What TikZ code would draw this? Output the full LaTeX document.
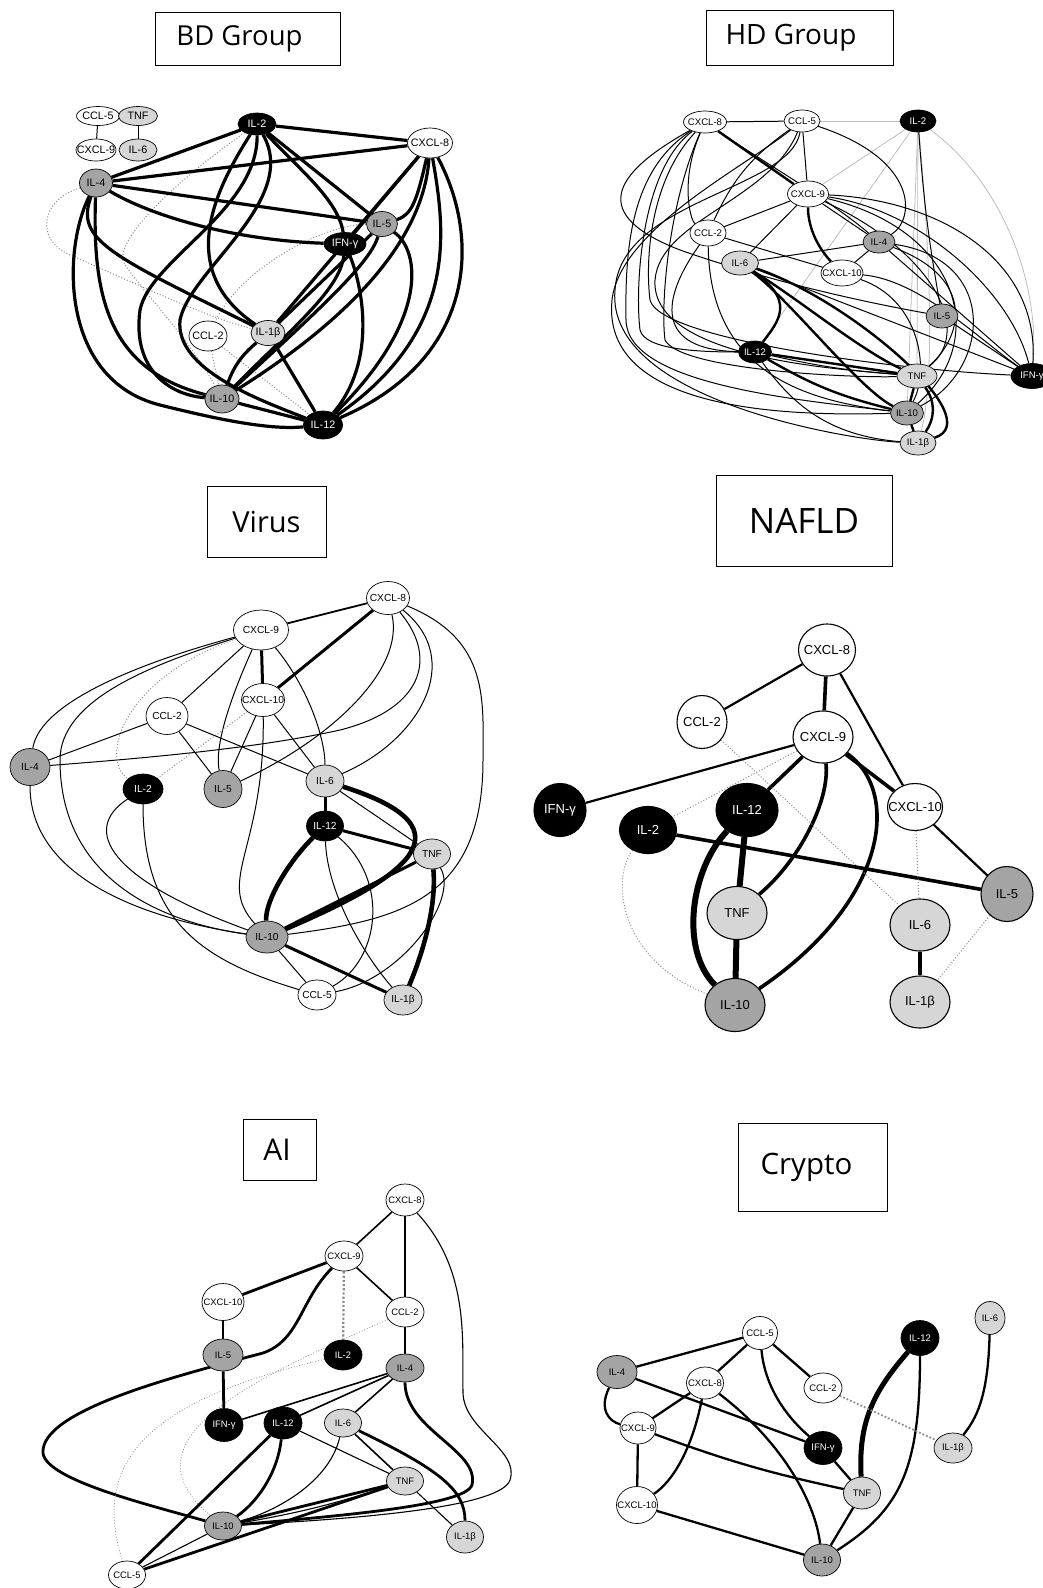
\documentclass[tikz,border=0pt]{standalone}
\usepackage{fontspec}
\setmainfont{Liberation Sans}
\newfontfamily\titlefont{Open Sans}
\usetikzlibrary{shapes.geometric}
\pgfdeclarelayer{edges}
\pgfsetlayers{edges,main}
\definecolor{lgray}{HTML}{D6D6D6}
\definecolor{mgray}{HTML}{A4A4A4}
\definecolor{dotgray}{HTML}{8C8C8C}
\definecolor{fadegray}{HTML}{BDBDBD}
\newcommand\cyt[1]{\makebox[0pt][c]{#1}}
\newcommand\fs[1]{\fontsize{#1}{#1}\selectfont}
\tikzset{
  cyto/.style={ellipse, draw=black, line width=0.7pt, inner sep=0pt, text=black},
  wn/.style={cyto, fill=white},
  ln/.style={cyto, fill=lgray},
  gn/.style={cyto, fill=mgray},
  kn/.style={cyto, fill=black, text=white},
  sz/.style 2 args={minimum width=#1pt, minimum height=#2pt},
  panel/.style={draw=black, line width=0.7pt, inner sep=0pt},
  weak/.style={draw=dotgray, dotted, line width=1pt},
  hdthin/.style={line width=1pt},
  hdthick/.style={line width=2.4pt},
  hdfaint/.style={draw=fadegray, line width=0.8pt},
  vthin/.style={line width=1pt},
  vmed/.style={line width=1.8pt},
  vthick/.style={line width=3pt},
  vheavy/.style={line width=4.6pt},
  nmed/.style={line width=2.2pt},
  nthick/.style={line width=3.6pt},
  nheavy/.style={line width=6pt},
  athin/.style={line width=1.1pt},
  amed/.style={line width=1.6pt},
  athick/.style={line width=2.8pt},
  cmed/.style={line width=2.3pt},
  cheavy/.style={line width=5pt},
}
\begin{document}
\begin{tikzpicture}[x=1pt,y=-1pt]
\useasboundingbox (0,0) rectangle (1043,1588);

% ---------- panel titles ----------
\node[panel, minimum width=185pt, minimum height=53pt, font=\titlefont\fs{27.5}] (tBD) at (247.5,38.5) {\hspace*{-16pt}BD Group};
\node[panel, minimum width=187pt, minimum height=55pt, font=\titlefont\fs{28}] (tHD) at (799.5,37.5) {\hspace*{-17pt}HD Group};
\node[panel, minimum width=119pt, minimum height=71pt, font=\titlefont\fs{29}] (tVirus) at (266.5,521.5) {Virus};
\node[panel, minimum width=176pt, minimum height=91pt, font=\titlefont\fs{35}] (tNAFLD) at (804,520.5) {NAFLD};
\node[panel, minimum width=73pt, minimum height=61pt, font=\titlefont\fs{30}] (tAI) at (279.5,1149.5) {\hspace*{-5pt}AI};
\node[panel, minimum width=149pt, minimum height=88pt, font=\titlefont\fs{29.5}] (tCrypto) at (812.5,1167) {\hspace*{-12pt}Crypto};

% ---------- BD group ----------
\begin{scope}[every node/.append style={font=\fs{10.8}}]
\node[wn, sz={43}{19}] (bdCCL5) at (98,116) {\cyt{CCL-5}};
\node[ln, sz={39}{19}] (bdTNF) at (138,116) {\cyt{TNF}};
\node[wn, sz={40}{22}] (bdCXCL9) at (96,150) {\cyt{CXCL-9}};
\node[ln, sz={38}{22}] (bdIL6) at (138,150) {\cyt{IL-6}};
\node[kn, sz={38}{22}] (bdIL2) at (257,124) {\cyt{IL-2}};
\node[wn, sz={45}{30}] (bdCXCL8) at (430,143) {\cyt{CXCL-8}};
\node[gn, sz={33}{28}] (bdIL4) at (96,183) {\cyt{IL-4}};
\node[gn, sz={31}{25}] (bdIL5) at (382,224) {\cyt{IL-5}};
\node[kn, sz={42}{23}] (bdIFN) at (345,244) {\cyt{IFN-γ}};
\node[wn, sz={38}{30}] (bdCCL2) at (208,336) {\cyt{CCL-2}};
\node[ln, sz={34}{25}] (bdIL1b) at (268,333) {\cyt{IL-1β}};
\node[gn, sz={34}{28}] (bdIL10) at (222,399) {\cyt{IL-10}};
\node[kn, sz={39}{28}] (bdIL12) at (323,425) {\cyt{IL-12}};
\end{scope}
\begin{pgfonlayer}{edges}
\begin{scope}[line width=3.2pt]
\draw[line width=1pt] (bdCCL5) -- (bdCXCL9);
\draw[line width=1pt] (bdTNF) -- (bdIL6);
\draw[weak] (bdIL4) .. controls (40,200) and (35,240) .. (70,255) .. controls (140,285) and (200,315) .. (bdIL1b);
\draw[weak] (bdIL2) .. controls (170,185) and (110,245) .. (125,265) .. controls (150,300) and (190,340) .. (bdIL10);
\draw[weak] (bdIL5) .. controls (320,225) and (240,270) .. (bdCCL2);
\draw[weak] (bdCCL2) -- (bdIL10);
\draw[weak] (bdCCL2) -- (bdIL12);
\draw (bdIL2) -- (bdIL4);
\draw (bdIL2) -- (bdCXCL8);
\draw (bdIL4) -- (bdCXCL8);
\draw (bdIL4) -- (bdIL5);
\draw (bdIL4) .. controls (150,215) and (230,240) .. (bdIFN);
\draw (bdIL2) -- (bdIL5);
\draw (bdIL2) .. controls (300,170) and (338,200) .. (bdIFN);
\draw (bdIL2) .. controls (215,190) and (175,270) .. (bdIL1b);
\draw (bdIL2) .. controls (258,210) and (150,260) .. (140,310) .. controls (132,370) and (170,395) .. (bdIL10);
\draw (bdIL2) .. controls (300,200) and (190,270) .. (180,320) .. controls (175,370) and (260,400) .. (bdIL12);
\draw (bdIL4) .. controls (62,250) and (60,380) .. (160,405) .. controls (220,420) and (270,430) .. (bdIL12);
\draw (bdIL4) .. controls (92,300) and (110,370) .. (bdIL10);
\draw (bdIL4) .. controls (75,240) and (110,255) .. (bdIL1b);
\draw (bdCXCL8) -- (bdIFN);
\draw (bdCXCL8) -- (bdIL1b);
\draw (bdCXCL8) .. controls (417,200) and (412,215) .. (bdIL5);
\draw (bdCXCL8) .. controls (425,220) and (380,300) .. (bdIL10);
\draw (bdCXCL8) .. controls (445,230) and (460,330) .. (bdIL12);
\draw (bdCXCL8) .. controls (482,240) and (475,360) .. (bdIL12);
\draw (bdIL5) .. controls (370,262) and (330,300) .. (bdIL10);
\draw (bdIL5) .. controls (420,250) and (430,320) .. (bdIL12);
\draw (bdIL5) -- (bdIL1b);
\draw (bdIFN) .. controls (340,290) and (290,330) .. (bdIL10);
\draw (bdIFN) .. controls (362,285) and (378,360) .. (bdIL12);
\draw (bdIL1b) -- (bdIL12);
\draw (bdIL1b) to[bend right=15] (bdIL10);
\draw (bdIL10) -- (bdIL12);
\end{scope}
\end{pgfonlayer}

% ---------- HD group ----------
\begin{scope}[every node/.append style={font=\fs{9.6}}]
\node[wn, sz={43}{22}] (hdCXCL8) at (705,122) {\cyt{CXCL-8}};
\node[wn, sz={36}{22}] (hdCCL5) at (802,121) {\cyt{CCL-5}};
\node[kn, sz={36}{22}] (hdIL2) at (918,121) {\cyt{IL-2}};
\node[wn, sz={41}{26}] (hdCXCL9) at (808,194) {\cyt{CXCL-9}};
\node[wn, sz={36}{26}] (hdCCL2) at (708,233) {\cyt{CCL-2}};
\node[gn, sz={32}{22}] (hdIL4) at (879,242) {\cyt{IL-4}};
\node[ln, sz={37}{24}] (hdIL6) at (740,263) {\cyt{IL-6}};
\node[wn, sz={42}{26}] (hdCXCL10) at (842,273) {\cyt{CXCL-10}};
\node[gn, sz={32}{24}] (hdIL5) at (942,316) {\cyt{IL-5}};
\node[kn, sz={33}{22}] (hdIL12) at (755,352) {\cyt{IL-12}};
\node[ln, sz={40}{24}] (hdTNF) at (917,376) {\cyt{TNF}};
\node[kn, sz={42}{25}] (hdIFN) at (1032,376) {\cyt{IFN-γ}};
\node[gn, sz={33}{24}] (hdIL10) at (907,413) {\cyt{IL-10}};
\node[ln, sz={36}{24}] (hdIL1b) at (918,443) {\cyt{IL-1β}};
\end{scope}
\begin{pgfonlayer}{edges}
% faint links of IL-2
\draw[hdfaint] (hdCCL5) -- (hdIL2);
\draw[hdfaint] (hdIL2) -- (hdCXCL9);
\draw[hdfaint] (hdIL2) -- (hdIL12);
\draw[hdfaint] (hdIL2) -- (hdTNF);
\draw[hdfaint] (hdIL2) -- (hdIL10);
\draw[hdfaint] (hdIL2) .. controls (930,250) and (935,380) .. (hdIL1b);
\draw[hdfaint] (hdIL2) .. controls (1000,180) and (1040,280) .. (hdIFN);
% thin links
\draw[hdthin] (hdCXCL8) -- (hdCCL5);
\draw[hdthin] (hdCXCL8) .. controls (680,180) and (690,220) .. (hdCCL2);
\draw[hdthin] (hdCXCL8) .. controls (760,160) and (830,200) .. (hdIL4);
\draw[hdthin] (hdCXCL8) .. controls (610,175) and (590,215) .. (680,250) .. controls (780,285) and (880,305) .. (hdIL5);
\draw[hdthin] (hdCXCL8) .. controls (630,170) and (625,250) .. (626,320) .. controls (627,385) and (800,400) .. (hdIL10);
\draw[hdthin] (hdCXCL8) .. controls (640,170) and (635,290) .. (640,330) .. controls (645,350) and (700,352) .. (hdIL12);
\draw[hdthin] (hdCXCL8) .. controls (650,180) and (645,260) .. (650,300) .. controls (660,340) and (900,370) .. (hdIFN);
\draw[hdthin] (hdCXCL8) .. controls (670,200) and (660,300) .. (665,340) .. controls (680,370) and (850,378) .. (hdTNF);
\draw[hdthin] (hdCCL5) -- (hdCXCL9);
\draw[hdthin] (hdCCL5) .. controls (920,160) and (915,220) .. (hdIL4);
\draw[hdthin] (hdCCL5) to[bend right=15] (hdCCL2);
\draw[hdthin] (hdCCL5) .. controls (740,170) and (620,230) .. (612,300) .. controls (600,420) and (820,415) .. (hdIL10);
\draw[hdthin] (hdCCL5) .. controls (770,200) and (660,220) .. (655,280) .. controls (650,360) and (850,370) .. (hdTNF);
\draw[hdthin] (hdCCL5) .. controls (790,190) and (620,200) .. (615,290) .. controls (605,400) and (850,440) .. (hdIL1b);
\draw[hdthin] (hdIL2) to[bend right=3] (hdIL5);
\draw[hdthin] (hdCXCL9) -- (hdCCL2);
\draw[hdthin] (hdCXCL9) -- (hdIL6);
\draw[hdthin] (hdCXCL9) -- (hdIL4);
\draw[hdthin] (hdCXCL9) .. controls (940,200) and (1040,260) .. (hdIFN);
\draw[hdthin] (hdCXCL9) .. controls (920,210) and (1010,290) .. (hdIFN);
\draw[hdthin] (hdCXCL9) .. controls (960,230) and (990,340) .. (hdIL10);
\draw[hdthin] (hdCXCL9) .. controls (930,250) and (975,330) .. (hdTNF);
\draw[hdthin] (hdCCL2) -- (hdCXCL10);
\draw[hdthin] (hdCCL2) .. controls (710,370) and (800,400) .. (hdIL10);
\draw[hdthin] (hdCCL2) .. controls (660,300) and (655,350) .. (hdIL12);
\draw[hdthin] (hdIL6) -- (hdIL4);
\draw[hdthin] (hdIL6) -- (hdIFN);
\draw[hdthin] (hdIL4) -- (hdCXCL10);
\draw[hdthin] (hdIL4) -- (hdIFN);
\draw[hdthin] (hdIL4) .. controls (1000,260) and (990,370) .. (hdIL10);
\draw[hdthin] (hdIL4) .. controls (980,280) and (960,340) .. (hdTNF);
\draw[hdthin] (hdCXCL10) .. controls (920,300) and (930,370) .. (hdIL10);
\draw[hdthin] (hdCXCL10) .. controls (920,280) and (980,340) .. (hdIFN);
\draw[hdthin] (hdIL5) -- (hdIFN);
\draw[hdthin] (hdIL12) to[bend right=25] (hdIL1b);
% strong links
\draw[hdthick] (hdCXCL8) -- (hdCXCL9);
\draw[hdthick] (hdCXCL9) .. controls (808,230) and (820,250) .. (hdCXCL10);
\draw[hdthick] (hdIL6) .. controls (795,300) and (780,320) .. (hdIL12);
\draw[hdthick] (hdIL6) .. controls (800,300) and (860,350) .. (hdTNF);
\draw[hdthick] (hdIL6) .. controls (790,300) and (860,390) .. (hdIL10);
\draw[hdthick] (hdIL6) .. controls (850,300) and (990,420) .. (hdIL1b);
\draw[hdthick] (hdIL12) -- (hdTNF);
\draw[hdthin] (hdIL12) to[bend right=4] (hdTNF);
\draw[hdthick] (hdIL12) to[bend right=8] (hdIL10);
\draw[hdthick] (hdTNF) -- (hdIL10);
\draw[hdthick] (hdTNF) to[bend left=35] (hdIL1b);
\draw[hdthick] (hdIL10) -- (hdIL1b);
\end{pgfonlayer}

% ---------- Virus ----------
\begin{scope}[every node/.append style={font=\fs{10.2}}]
\node[wn, sz={43}{33}] (vCXCL8) at (388,598) {\cyt{CXCL-8}};
\node[wn, sz={55}{40}] (vCXCL9) at (261,630) {\cyt{CXCL-9}};
\node[wn, sz={43}{33}] (vCXCL10) at (263,700) {\cyt{CXCL-10}};
\node[wn, sz={42}{37}] (vCCL2) at (167,716) {\cyt{CCL-2}};
\node[gn, sz={40}{37}] (vIL4) at (30,767) {\cyt{IL-4}};
\node[kn, sz={40}{30}] (vIL2) at (143,789) {\cyt{IL-2}};
\node[gn, sz={38}{37}] (vIL5) at (223,789) {\cyt{IL-5}};
\node[ln, sz={38}{32}] (vIL6) at (325,781) {\cyt{IL-6}};
\node[kn, sz={37}{30}] (vIL12) at (325,826) {\cyt{IL-12}};
\node[ln, sz={37}{30}] (vTNF) at (432,854) {\cyt{TNF}};
\node[gn, sz={42}{32}] (vIL10) at (267,937) {\cyt{IL-10}};
\node[wn, sz={38}{30}] (vCCL5) at (317,995) {\cyt{CCL-5}};
\node[ln, sz={38}{30}] (vIL1b) at (403,1000) {\cyt{IL-1β}};
\end{scope}
\begin{pgfonlayer}{edges}
\draw[vmed] (vCXCL9) -- (vCXCL8);
\draw[vthick] (vCXCL8) -- (vCXCL10);
\draw[vthin] (vCXCL8) .. controls (405,670) and (330,740) .. (vIL5);
\draw[vthin] (vCXCL8) .. controls (440,660) and (420,710) .. (340,730) .. controls (250,750) and (120,760) .. (vIL4);
\draw[vthin] (vCXCL8) .. controls (465,660) and (420,740) .. (vIL6);
\draw[vthin] (vCXCL8) .. controls (490,640) and (483,700) .. (483,760) .. controls (483,900) and (400,920) .. (vIL10);
\draw[vthin] (vCXCL9) .. controls (150,660) and (40,700) .. (vIL4);
\draw[vthin] (vCXCL9) .. controls (150,665) and (60,700) .. (60,760) .. controls (60,890) and (180,925) .. (vIL10);
\draw[vthin] (vCXCL9) -- (vCCL2);
\draw[vthin] (vCXCL9) .. controls (225,710) and (215,750) .. (vIL5);
\draw[vthick] (vCXCL9) -- (vCXCL10);
\draw[vthin] (vCXCL9) .. controls (310,690) and (325,740) .. (vIL6);
\draw[weak] (vCXCL9) .. controls (120,680) and (100,760) .. (vIL2);
\draw[weak] (vCXCL10) -- (vIL2);
\draw[vthin] (vCXCL10) -- (vIL5);
\draw[vthin] (vCXCL10) -- (vIL6);
\draw[vthin] (vCXCL10) .. controls (265,850) and (215,880) .. (vIL10);
\draw[vthin] (vCCL2) -- (vIL4);
\draw[vthin] (vCCL2) -- (vIL5);
\draw[vthin] (vCCL2) -- (vIL6);
\draw[vthin] (vIL4) .. controls (30,880) and (150,920) .. (vIL10);
\draw[vthin] (vIL2) .. controls (80,830) and (110,880) .. (vIL10);
\draw[vthin] (vIL2) .. controls (143,920) and (200,960) .. (vCCL5);
\draw[vthick] (vIL6) -- (vIL12);
\draw[vthin] (vIL6) -- (vTNF);
\draw[vheavy] (vIL6) .. controls (480,830) and (400,880) .. (vIL10);
\draw[vthick] (vIL12) -- (vTNF);
\draw[vheavy] (vIL12) .. controls (290,860) and (265,900) .. (vIL10);
\draw[vthin] (vIL12) .. controls (327,890) and (360,950) .. (vIL1b);
\draw[vthin] (vIL12) .. controls (390,880) and (380,960) .. (vCCL5);
\draw[vthick] (vTNF) -- (vIL10);
\draw[vheavy] (vTNF) .. controls (437,910) and (420,960) .. (vIL1b);
\draw[vthin] (vTNF) .. controls (460,900) and (400,980) .. (vCCL5);
\draw[vthick] (vIL10) -- (vIL1b);
\draw[vthin] (vIL10) -- (vCCL5);
\end{pgfonlayer}

% ---------- NAFLD ----------
\begin{scope}[every node/.append style={font=\fs{13}}, cyto/.append style={line width=1.1pt}]
\node[wn, sz={57}{52}] (nCXCL8) at (827,650) {\cyt{CXCL-8}};
\node[wn, sz={50}{53}] (nCCL2) at (702,722) {\cyt{CCL-2}};
\node[wn, sz={60}{52}] (nCXCL9) at (823,737) {\cyt{CXCL-9}};
\node[kn, sz={52}{53}] (nIFN) at (560,810) {\cyt{IFN-γ}};
\node[kn, sz={62}{53}] (nIL12) at (747,810) {\cyt{IL-12}};
\node[kn, sz={57}{47}] (nIL2) at (648,830) {\cyt{IL-2}};
\node[wn, sz={55}{47}] (nCXCL10) at (915,807) {\cyt{CXCL-10}};
\node[gn, sz={52}{55}] (nIL5) at (1007,894) {\cyt{IL-5}};
\node[ln, sz={60}{53}] (nTNF) at (737,913) {\cyt{TNF}};
\node[ln, sz={60}{52}] (nIL6) at (920,925) {\cyt{IL-6}};
\node[gn, sz={60}{53}] (nIL10) at (735,1005) {\cyt{IL-10}};
\node[ln, sz={60}{52}] (nIL1b) at (920,1002) {\cyt{IL-1β}};
\end{scope}
\begin{pgfonlayer}{edges}
\draw[nmed] (nCXCL8) -- (nCCL2);
\draw[nthick] (nCXCL8) -- (nCXCL9);
\draw[nmed] (nCXCL8) -- (nCXCL10);
\draw[nmed] (nCXCL9) -- (nIFN);
\draw[nthick] (nCXCL9) -- (nIL12);
\draw[nthick] (nCXCL9) .. controls (830,800) and (800,860) .. (nTNF);
\draw[nthick] (nCXCL9) .. controls (900,790) and (890,900) .. (nIL10);
\draw[nthick] (nCXCL9) -- (nCXCL10);
\draw[weak] (nCXCL9) -- (nIL2);
\draw[weak] (nCCL2) -- (nIL6);
\draw[nthick] (nIL2) -- (nIL5);
\draw[weak] (nIL2) .. controls (610,880) and (620,960) .. (nIL10);
\draw[nheavy] (nIL12) -- (nTNF);
\draw[nheavy] (nIL12) .. controls (690,870) and (680,950) .. (nIL10);
\draw[nheavy] (nTNF) -- (nIL10);
\draw[nmed] (nCXCL10) -- (nIL5);
\draw[weak] (nCXCL10) -- (nIL6);
\draw[nthick] (nIL6) -- (nIL1b);
\draw[weak] (nIL5) -- (nIL1b);
\end{pgfonlayer}

% ---------- AI ----------
\begin{scope}[every node/.append style={font=\fs{9.4}}]
\node[wn, sz={38}{32}] (aCXCL8) at (405,1200) {\cyt{CXCL-8}};
\node[wn, sz={38}{30}] (aCXCL9) at (344,1256) {\cyt{CXCL-9}};
\node[wn, sz={42}{37}] (aCXCL10) at (223,1302) {\cyt{CXCL-10}};
\node[wn, sz={38}{30}] (aCCL2) at (405,1312) {\cyt{CCL-2}};
\node[gn, sz={40}{32}] (aIL5) at (223,1355) {\cyt{IL-5}};
\node[kn, sz={38}{30}] (aIL2) at (343,1355) {\cyt{IL-2}};
\node[gn, sz={38}{28}] (aIL4) at (405,1368) {\cyt{IL-4}};
\node[kn, sz={38}{33}] (aIFN) at (224,1425) {\cyt{IFN-γ}};
\node[kn, sz={38}{32}] (aIL12) at (283,1423) {\cyt{IL-12}};
\node[ln, sz={37}{28}] (aIL6) at (343,1423) {\cyt{IL-6}};
\node[ln, sz={37}{28}] (aTNF) at (405,1481) {\cyt{TNF}};
\node[gn, sz={37}{28}] (aIL10) at (223,1526) {\cyt{IL-10}};
\node[ln, sz={37}{32}] (aIL1b) at (465,1537) {\cyt{IL-1β}};
\node[wn, sz={37}{28}] (aCCL5) at (127,1575) {\cyt{CCL-5}};
\end{scope}
\begin{pgfonlayer}{edges}
\draw[amed] (aCXCL8) -- (aCXCL9);
\draw[amed] (aCXCL8) -- (aCCL2);
\draw[athin] (aCXCL8) .. controls (470,1270) and (462,1340) .. (463,1393) .. controls (464,1430) and (520,1450) .. (510,1480) .. controls (500,1510) and (330,1520) .. (aIL10);
\draw[athick] (aCXCL9) -- (aCXCL10);
\draw[draw=dotgray, dotted, line width=2.2pt] (aCXCL9) -- (aIL2);
\draw[amed] (aCXCL9) -- (aCCL2);
\draw[athick] (aCXCL9) .. controls (300,1300) and (300,1340) .. (263,1353) .. controls (180,1375) and (40,1410) .. (43,1453) .. controls (46,1480) and (150,1505) .. (aIL10);
\draw[amed] (aCXCL10) -- (aIL5);
\draw[amed] (aCCL2) -- (aIL4);
\draw[weak, line width=0.8pt] (aCCL2) .. controls (250,1380) and (120,1440) .. (aIL10);
\draw[weak, line width=0.8pt] (aIL2) .. controls (150,1400) and (90,1460) .. (aCCL5);
\draw[athick] (aIL5) -- (aIFN);
\draw[amed] (aIL4) -- (aIFN);
\draw[amed] (aIL4) -- (aIL12);
\draw[amed] (aIL4) -- (aIL6);
\draw[athick] (aIL4) .. controls (405,1430) and (480,1450) .. (472,1485) .. controls (465,1505) and (350,1515) .. (aIL10);
\draw[athick] (aIL6) .. controls (440,1470) and (465,1490) .. (aIL1b);
\draw[amed] (aIL6) -- (aTNF);
\draw[athin] (aIL6) .. controls (330,1480) and (280,1510) .. (aIL10);
\draw[athin] (aIL12) -- (aTNF);
\draw[athick] (aIL12) .. controls (278,1470) and (260,1500) .. (aIL10);
\draw[athick] (aIL12) -- (aCCL5);
\draw[athick] (aTNF) -- (aIL10);
\draw[athin] (aTNF) to[bend left=4] (aIL10);
\draw[athick] (aTNF) -- (aCCL5);
\draw[athin] (aTNF) -- (aIL1b);
\draw[athin] (aIL10) -- (aCCL5);
\end{pgfonlayer}

% ---------- Crypto ----------
\begin{scope}[every node/.append style={font=\fs{9.5}}]
\node[ln, sz={30}{33}] (cIL6) at (990,1318) {\cyt{IL-6}};
\node[wn, sz={35}{33}] (cCCL5) at (760,1333) {\cyt{CCL-5}};
\node[kn, sz={38}{35}] (cIL12) at (920,1338) {\cyt{IL-12}};
\node[gn, sz={40}{33}] (cIL4) at (617,1372) {\cyt{IL-4}};
\node[wn, sz={37}{32}] (cCXCL8) at (705,1383) {\cyt{CXCL-8}};
\node[wn, sz={38}{30}] (cCCL2) at (823,1388) {\cyt{CCL-2}};
\node[wn, sz={36}{32}] (cCXCL9) at (638,1428) {\cyt{CXCL-9}};
\node[kn, sz={38}{33}] (cIFN) at (823,1448) {\cyt{IFN-γ}};
\node[ln, sz={38}{30}] (cIL1b) at (953,1448) {\cyt{IL-1β}};
\node[ln, sz={37}{32}] (cTNF) at (862,1493) {\cyt{TNF}};
\node[wn, sz={41}{37}] (cCXCL10) at (637,1505) {\cyt{CXCL-10}};
\node[gn, sz={37}{32}] (cIL10) at (822,1560) {\cyt{IL-10}};
\end{scope}
\begin{pgfonlayer}{edges}
\draw[cmed] (cCCL5) -- (cIL4);
\draw[cmed] (cCCL5) -- (cCXCL8);
\draw[cmed] (cCCL5) -- (cCCL2);
\draw[cmed] (cCCL5) .. controls (765,1390) and (790,1420) .. (cIFN);
\draw[cmed] (cIL4) .. controls (598,1410) and (610,1422) .. (cCXCL9);
\draw[cmed] (cIL4) -- (cIFN);
\draw[cmed] (cCXCL8) -- (cCXCL9);
\draw[cmed] (cCXCL8) .. controls (692,1450) and (672,1482) .. (cCXCL10);
\draw[cmed] (cCXCL8) .. controls (780,1440) and (815,1500) .. (cIL10);
\draw[cmed] (cCXCL9) -- (cCXCL10);
\draw[cmed] (cCXCL9) to[bend right=4] (cTNF);
\draw[cmed] (cCXCL10) -- (cIL10);
\draw[cmed] (cIFN) -- (cTNF);
\draw[cheavy] (cTNF) .. controls (858,1420) and (875,1390) .. (cIL12);
\draw[cmed] (cTNF) -- (cIL10);
\draw[cmed] (cIL12) .. controls (920,1470) and (900,1510) .. (cIL10);
\draw[cmed] (cIL6) .. controls (988,1400) and (975,1420) .. (cIL1b);
\draw[draw=dotgray, dotted, line width=1.8pt] (cCCL2) -- (cIL1b);
\end{pgfonlayer}
\end{tikzpicture}
\end{document}
